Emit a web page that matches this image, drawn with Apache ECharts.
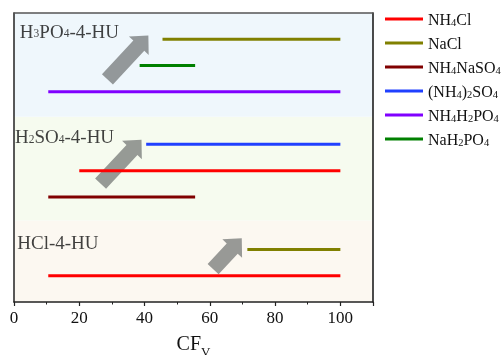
<!DOCTYPE html>
<html>
<head>
<meta charset="utf-8">
<script src="https://cdn.jsdelivr.net/npm/echarts@6/dist/echarts.min.js"></script>
<style>html,body{margin:0;padding:0;background:#fff}#c{width:501px;height:355px}</style>
</head>
<body>
<div id="c"></div>
<script>
// ---- data ----
const salts = ['NH4Cl', 'NaCl', 'NH4NaSO4', '(NH4)2SO4', 'NH4H2PO4', 'NaH2PO4'];
const saltColors = ['#ff0000', '#808000', '#800000', '#2040ff', '#8000ff', '#008000'];
const segSalt  = ['NaCl', 'NaH2PO4', 'NH4H2PO4', '(NH4)2SO4', 'NH4Cl', 'NH4NaSO4', 'NaCl', 'NH4Cl'];
const segStart = [45.5, 38.5, 10.5, 40.5, 20, 10.5, 71.5, 10.5];
const segEnd   = [100, 55.5, 100, 100, 100, 55.5, 100, 100];
const segRow   = [10, 9, 8, 6, 5, 4, 2, 1];
const bandFrom = [0, 3.1, 7.05];
const bandTo   = [3.1, 7.05, 11];
const groupLabels = ['{t|H}{s|3}{t|PO}{s|4}{t|-4-HU}', '{t|H}{s|2}{t|SO}{s|4}{t|-4-HU}', '{t|HCl-4-HU}'];
const groupLabelX = [1.8, 0.3, 1.0];
const groupLabelY = [10.24, 6.24, 2.21];
const arrowX = [34.9, 32.8, 65.4];
const arrowY = [9.31, 5.34, 1.84];
const arrowLen = [60, 60, 42];
const xTicks = [0, 20, 40, 60, 80, 100];

const serif = "'Liberation Serif', 'Times New Roman', serif";
const bandColors = ['#fcf8f1', '#f6fbef', '#eff7fc'];

function richName(name) {
  return name.split(/(\d+)/).filter(s => s.length).map(s => /^\d+$/.test(s) ? '{s|' + s + '}' : '{t|' + s + '}').join('');
}
function arrowPath(L) {
  const h = L - 14;
  return 'path://M0,-7.5L' + h + ',-7.5L' + h + ',-13.5L' + L + ',0L' + h + ',13.5L' + h + ',7.5L0,7.5Z';
}

const series = [];
series.push({
  name: 'bands', type: 'line', data: [[0, 0]], symbol: 'none', lineStyle: { opacity: 0 }, silent: true, z: 0,
  markArea: {
    silent: true,
    data: bandFrom.map((f, i) => [{ yAxis: f, itemStyle: { color: bandColors[i] } }, { yAxis: bandTo[i] }])
  }
});
series.push({
  name: 'arrows', type: 'scatter', silent: true, z: 1,
  data: arrowX.map((x, i) => ({
    value: [x, arrowY[i]],
    symbol: arrowPath(arrowLen[i]),
    symbolSize: [arrowLen[i], 27],
    symbolRotate: 47
  })),
  itemStyle: { color: 'rgba(95,98,98,0.8)' }
});
series.push({
  name: 'groupLabels', type: 'scatter', silent: true, z: 4, symbolSize: 0,
  data: groupLabelX.map((x, i) => ({
    value: [x, groupLabelY[i]],
    label: { show: true, position: 'right', distance: 0, formatter: groupLabels[i] }
  })),
  label: {
    color: '#111',
    rich: {
      t: { fontFamily: serif, fontSize: 19, color: '#111', verticalAlign: 'bottom' },
      s: { fontFamily: serif, fontSize: 11.5, color: '#111', verticalAlign: 'bottom', padding: [0, 0, 2, 0] }
    }
  }
});
segSalt.forEach((s, i) => {
  series.push({
    name: s, type: 'line', z: 3, silent: true,
    color: saltColors[salts.indexOf(s)],
    showSymbol: false, symbol: 'none',
    lineStyle: { width: 3, color: saltColors[salts.indexOf(s)], cap: 'butt' },
    data: [[segStart[i], segRow[i]], [segEnd[i], segRow[i]]]
  });
});

const frameAxis = { show: true, lineStyle: { color: '#222', width: 1.5 } };
const chart = echarts.init(document.getElementById('c'), null, { renderer: 'canvas' });
chart.setOption({
  animation: false,
  backgroundColor: '#ffffff',
  grid: { left: 14, top: 13, right: 128, bottom: 53, outerBoundsMode: 'none', containLabel: false },
  xAxis: [{
    type: 'value', min: 0, max: 110, interval: 20, position: 'bottom', z: 10,
    name: '{a|CF}{s|V}', nameLocation: 'middle', nameGap: 33,
    nameTextStyle: {
      rich: {
        a: { fontFamily: serif, fontSize: 20, color: '#111', verticalAlign: 'bottom' },
        s: { fontFamily: serif, fontSize: 13, color: '#111', verticalAlign: 'bottom', padding: [0, 0, -4, 0] }
      }
    },
    axisLine: frameAxis,
    axisTick: { show: true, inside: false, length: 4, lineStyle: { color: '#222', width: 1.2 } },
    minorTick: { show: true, splitNumber: 2, length: 2.5, lineStyle: { color: '#222', width: 1 } },
    axisLabel: { fontFamily: serif, fontSize: 17, color: '#111', margin: 8, showMaxLabel: false,
      formatter: v => (xTicks.indexOf(v) >= 0 ? String(v) : '') },
    splitLine: { show: false }
  }, {
    type: 'value', min: 0, max: 110, position: 'top', z: 10,
    axisLine: { show: true, onZero: false, lineStyle: { color: '#555', width: 1.5 } },
    axisTick: { show: false }, axisLabel: { show: false }, splitLine: { show: false }
  }],
  yAxis: [{
    type: 'value', min: 0, max: 11, position: 'left', z: 10,
    axisLine: frameAxis,
    axisTick: { show: false }, axisLabel: { show: false }, splitLine: { show: false }
  }, {
    type: 'value', min: 0, max: 11, position: 'right', z: 10,
    axisLine: { show: true, onZero: false, lineStyle: { color: '#111', width: 1.5 } },
    axisTick: { show: false }, axisLabel: { show: false }, splitLine: { show: false }
  }],
  legend: {
    orient: 'vertical', left: 380, top: 8,
    data: salts, icon: 'rect', itemWidth: 38, itemHeight: 3, itemGap: 8,
    formatter: name => richName(name),
    textStyle: {
      color: '#111', padding: [0, 0, 0, 0],
      rich: {
        t: { fontFamily: serif, fontSize: 16, color: '#111', verticalAlign: 'bottom', lineHeight: 20 },
        s: { fontFamily: serif, fontSize: 10.5, color: '#111', verticalAlign: 'bottom', lineHeight: 20 }
      }
    },
    itemStyle: { borderWidth: 0 }
  },
  series: series
});
</script>
</body>
</html>
